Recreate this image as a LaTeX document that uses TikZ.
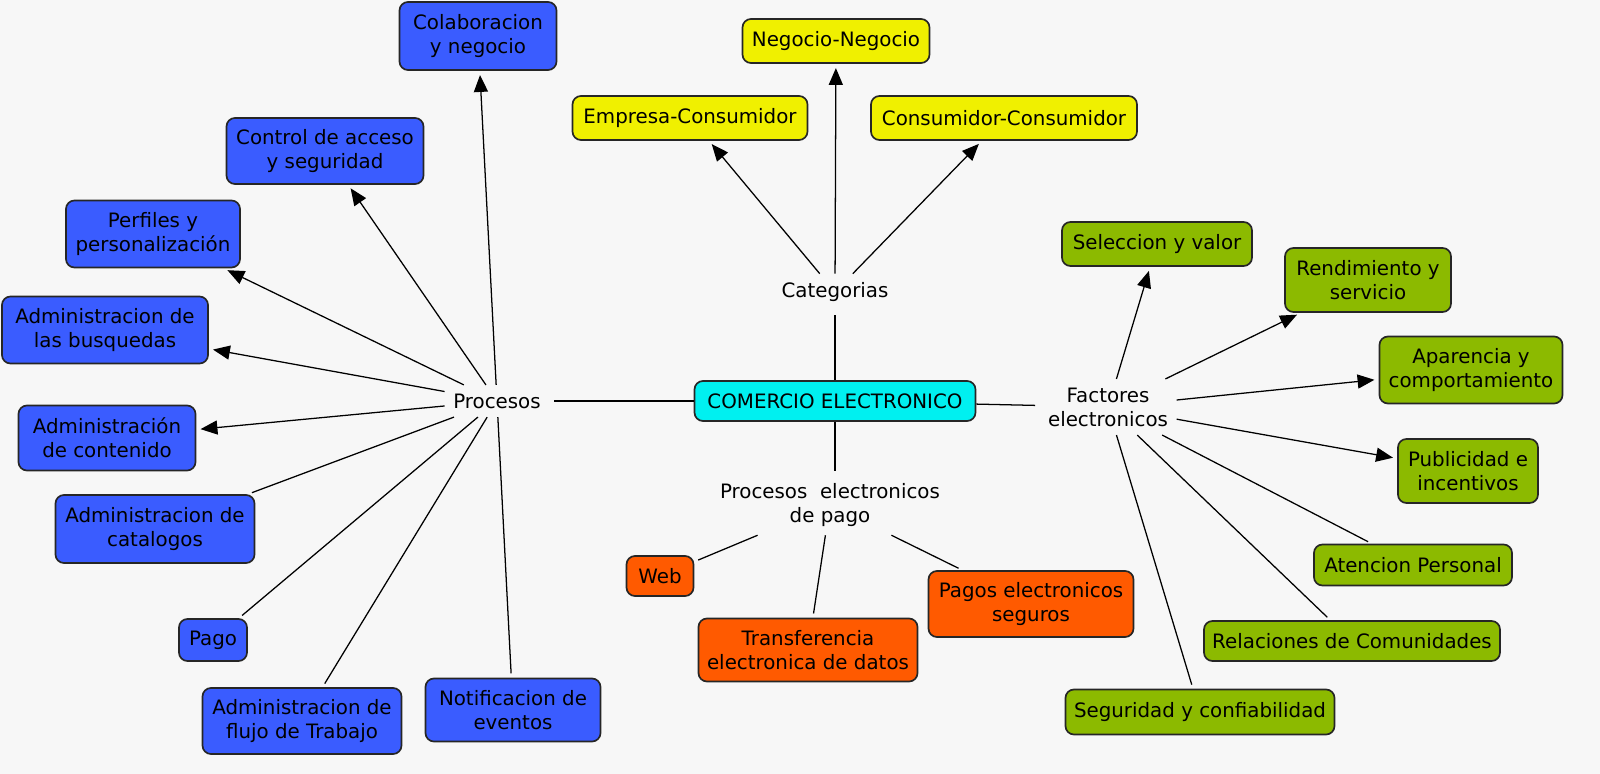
\documentclass[tikz,border=0pt]{standalone}
\usepackage{fontspec}
\setmainfont{DejaVu Sans}
\usetikzlibrary{positioning,arrows.meta}
\definecolor{fondo}{RGB}{247,247,247}
\definecolor{azul}{RGB}{58,92,255}
\definecolor{amarillo}{RGB}{240,240,0}
\definecolor{cian}{RGB}{0,240,240}
\definecolor{verde}{RGB}{140,186,0}
\definecolor{naranja}{RGB}{255,90,0}

\begin{document}
\begin{tikzpicture}[x=0.025cm, y=-0.025cm,
    font=\fontsize{14.1}{17}\selectfont,
    caja/.style={draw=black!85, line width=1.2pt, rounded corners=6pt, align=center, inner sep=2pt},
    tam/.style 2 args={minimum width=#1*0.025cm, minimum height=#2*0.025cm},
    tema/.style={align=center, inner sep=6pt},
    linea/.style={line width=0.9pt, shorten >=3pt},
    flecha/.style={linea, -{Triangle[length=12pt,width=10pt]}}]
% Fondo
\fill[fondo] (0,0) rectangle (1600,774);

% Centro
\node[caja, fill=cian, tam={281}{40}] (comercio) at (835,401) {COMERCIO ELECTRONICO};
\node[tema] (procesos) at (497,401) {Procesos};
\node[tema] (categorias) at (835,292) {Categorias};
\node[tema] (factores) at (1108,407) {Factores\\electronicos};
\node[tema] (pagos) at (830,505) {Procesos~~electronicos\\de pago};

% Procesos
\node[caja, fill=azul, tam={157}{68}] (colab) at (478,36) {Colaboracion\\y negocio};
\node[caja, fill=azul, tam={197}{66}] (control) at (325,151) {Control de acceso\\y seguridad};
\node[caja, fill=azul, tam={174}{67}] (perfiles) at (153,234) {Perfiles y\\personalización};
\node[caja, fill=azul, tam={206}{67}] (busquedas) at (105,330) {Administracion de\\las busquedas};
\node[caja, fill=azul, tam={177}{65}] (contenido) at (107,438) {Administración\\de contenido};
\node[caja, fill=azul, tam={199}{68}] (catalogos) at (155,529) {Administracion de\\catalogos};
\node[caja, fill=azul, tam={68}{42}] (pago) at (213,640) {Pago};
\node[caja, fill=azul, tam={199}{66}] (flujo) at (302,721) {Administracion de\\flujo de Trabajo};
\node[caja, fill=azul, tam={175}{63}] (notif) at (513,710) {Notificacion de\\eventos};

% Categorias
\node[caja, fill=amarillo, tam={187}{44}] (negneg) at (836,41) {Negocio-Negocio};
\node[caja, fill=amarillo, tam={235}{44}] (empcon) at (690,118) {Empresa-Consumidor};
\node[caja, fill=amarillo, tam={266}{44}] (concon) at (1004,118) {Consumidor-Consumidor};

% Factores
\node[caja, fill=verde, tam={190}{44}] (seleccion) at (1157,244) {Seleccion y valor};
\node[caja, fill=verde, tam={166}{64}] (rendimiento) at (1368,280) {Rendimiento y\\servicio};
\node[caja, fill=verde, tam={183}{67}] (aparencia) at (1471,370) {Aparencia y\\comportamiento};
\node[caja, fill=verde, tam={140}{64}] (publicidad) at (1468,471) {Publicidad e\\incentivos};
\node[caja, fill=verde, tam={198}{41}] (atencion) at (1413,565) {Atencion Personal};
\node[caja, fill=verde, tam={296}{40}] (relaciones) at (1352,641) {Relaciones de Comunidades};
\node[caja, fill=verde, tam={269}{45}] (seguridad) at (1200,712) {Seguridad y confiabilidad};

% Pago
\node[caja, fill=naranja, tam={67}{40}] (web) at (660,576) {Web};
\node[caja, fill=naranja, tam={219}{63}] (transf) at (808,650) {Transferencia\\electronica de datos};
\node[caja, fill=naranja, tam={205}{66}] (seguros) at (1031,604) {Pagos electronicos\\seguros};

% Enlaces
\foreach \n in {procesos,categorias,factores}
    \draw[linea] (comercio) -- (\n);
\draw[linea] (comercio) -- (comercio |- pagos.north);
\foreach \n in {colab,control,perfiles,busquedas,contenido}
    \draw[flecha] (procesos) -- (\n);
\foreach \n in {catalogos,pago,flujo,notif}
    \draw[linea] (procesos) -- (\n);
\foreach \n in {negneg,empcon,concon}
    \draw[flecha] (categorias) -- (\n);
\foreach \n in {seleccion,rendimiento,aparencia,publicidad}
    \draw[flecha] (factores) -- (\n);
\foreach \n in {atencion,relaciones,seguridad}
    \draw[linea] (factores) -- (\n);
\foreach \n in {web,transf,seguros}
    \draw[linea] (pagos) -- (\n);
\end{tikzpicture}
\end{document}
